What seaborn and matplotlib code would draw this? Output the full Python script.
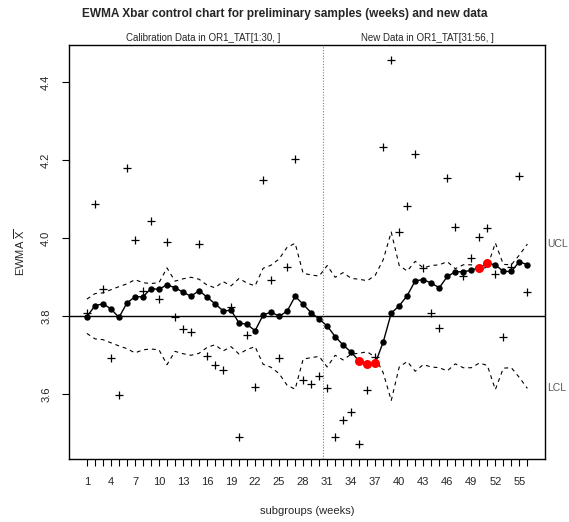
import matplotlib
matplotlib.use("Agg")
import matplotlib.pyplot as plt
import seaborn as sns
import numpy as np
import pandas as pd

# ---- data -------------------------------------------------------------
weeks = list(range(1, 57))
n_calibration = 30
center = 3.8

group_means = [3.808, 4.089, 3.869, 3.692, 3.598, 4.180, 3.996, 3.866, 4.044, 3.844,
               3.991, 3.799, 3.768, 3.759, 3.985, 3.699, 3.674, 3.661, 3.824, 3.490,
               3.752, 3.618, 4.149, 3.892, 3.693, 3.927, 4.203, 3.637, 3.627, 3.647,
               3.617, 3.490, 3.534, 3.554, 3.473, 3.611, 3.695, 4.233, 4.457, 4.015,
               4.084, 4.215, 3.923, 3.809, 3.771, 4.155, 4.028, 3.902, 3.950, 4.002,
               4.026, 3.908, 3.747, 3.927, 4.160, 3.863]

ewma = [3.799, 3.827, 3.832, 3.819, 3.797, 3.834, 3.850, 3.850, 3.871, 3.869,
        3.881, 3.873, 3.862, 3.851, 3.866, 3.849, 3.832, 3.814, 3.815, 3.783,
        3.779, 3.763, 3.803, 3.811, 3.800, 3.813, 3.851, 3.831, 3.809, 3.793,
        3.775, 3.748, 3.726, 3.708, 3.685, 3.678, 3.679, 3.734, 3.808, 3.827,
        3.853, 3.891, 3.894, 3.885, 3.873, 3.902, 3.914, 3.914, 3.918, 3.925,
        3.936, 3.932, 3.915, 3.915, 3.940, 3.932]

ucl = [3.844, 3.858, 3.860, 3.868, 3.876, 3.883, 3.894, 3.886, 3.884, 3.886,
       3.924, 3.890, 3.896, 3.900, 3.895, 3.880, 3.873, 3.889, 3.878, 3.897,
       3.885, 3.878, 3.923, 3.931, 3.947, 3.977, 3.987, 3.910, 3.906, 3.903,
       3.930, 3.900, 3.912, 3.897, 3.895, 3.891, 3.905, 3.945, 4.016, 3.930,
       3.916, 3.941, 3.924, 3.930, 3.932, 3.940, 3.922, 3.932, 3.932, 3.920,
       3.926, 3.988, 3.933, 3.932, 3.957, 3.985]

lcl = [3.756, 3.742, 3.740, 3.732, 3.724, 3.717, 3.706, 3.714, 3.716, 3.714,
       3.676, 3.710, 3.704, 3.700, 3.705, 3.720, 3.727, 3.711, 3.722, 3.703,
       3.715, 3.722, 3.677, 3.669, 3.653, 3.623, 3.613, 3.690, 3.694, 3.697,
       3.670, 3.700, 3.688, 3.703, 3.705, 3.709, 3.695, 3.655, 3.584, 3.670,
       3.684, 3.659, 3.676, 3.670, 3.668, 3.660, 3.678, 3.668, 3.668, 3.680,
       3.674, 3.612, 3.667, 3.668, 3.643, 3.615]

y_ticks = [3.6, 3.8, 4.0, 4.2, 4.4]
x_tick_labels = list(range(1, 57, 3))

# ---- style ------------------------------------------------------------
sns.set_style("white")
plt.rcParams["font.family"] = ["Liberation Sans", "DejaVu Sans"]
plt.rcParams["mathtext.fontset"] = "custom"
plt.rcParams["mathtext.rm"] = "Liberation Sans"
plt.rcParams["mathtext.it"] = "Liberation Sans"

df = pd.DataFrame({"week": weeks, "mean": group_means, "ewma": ewma,
                   "ucl": ucl, "lcl": lcl})
df["out"] = (df["ewma"] > df["ucl"]) | (df["ewma"] < df["lcl"])

fig = plt.figure(figsize=(5.69, 5.22), dpi=100)
ax = fig.add_axes([0.1218, 0.1207, 0.8360, 0.7931])

# control limits
for col in ("ucl", "lcl"):
    sns.lineplot(data=df, x="week", y=col, ax=ax, color="black", lw=0.8,
                 linestyle=(0, (3.5, 3.5)))

# centre line and phase separator
ax.axhline(center, color="black", lw=1.0)
ax.axvline(n_calibration + 0.5, color="#808080", lw=0.8, linestyle=(0, (1, 1.5)))

# subgroup means
sns.scatterplot(data=df, x="week", y="mean", ax=ax, marker="+", color="black",
                s=30, linewidth=0.9)

# EWMA statistic
sns.lineplot(data=df, x="week", y="ewma", ax=ax, color="black", lw=1.0,
             marker="o", markersize=4.6, markeredgewidth=0)
sns.scatterplot(data=df[df["out"]], x="week", y="ewma", ax=ax, color="red",
                s=42, linewidth=0, zorder=5)

ax.set_xlim(-1.2, 58.2)
ax.set_ylim(3.434, 4.4956)

ax.set_xticks(weeks)
ax.set_xticklabels([str(w) if w in x_tick_labels else "" for w in weeks])
ax.set_yticks(y_ticks)
ax.set_yticklabels([f"{v:.1f}" for v in y_ticks], rotation=90, va="center")
ax.tick_params(axis="both", direction="out", length=5, width=0.8,
               labelsize=8, color="black", bottom=True, left=True)
ax.tick_params(axis="x", pad=8)
ax.tick_params(axis="y", pad=8)

for sp in ax.spines.values():
    sp.set_visible(True)
    sp.set_color("black")
    sp.set_linewidth(1.0)

ax.set_xlabel("subgroups (weeks)", fontsize=8, labelpad=14)
ax.set_ylabel(r"EWMA $\overline{\mathrm{X}}$", fontsize=8, labelpad=10)

fig.suptitle("EWMA Xbar control chart for preliminary samples (weeks) and new data",
             fontsize=8.6, fontweight="bold", x=0.5, y=0.985)

ax.text((1 + n_calibration) / 2, 1.006, "Calibration Data in OR1_TAT[1:30, ]",
        transform=ax.get_xaxis_transform(), ha="center", va="bottom", fontsize=7)
ax.text((n_calibration + 1 + 56) / 2, 1.006, "New Data in OR1_TAT[31:56, ]",
        transform=ax.get_xaxis_transform(), ha="center", va="bottom", fontsize=7)

ax.text(1.004, ucl[-1], "UCL", transform=ax.get_yaxis_transform(), ha="left",
        va="center", fontsize=7.5, color="#555555")
ax.text(1.004, lcl[-1], "LCL", transform=ax.get_yaxis_transform(), ha="left",
        va="center", fontsize=7.5, color="#555555")

fig.savefig("out.png", dpi=100)
